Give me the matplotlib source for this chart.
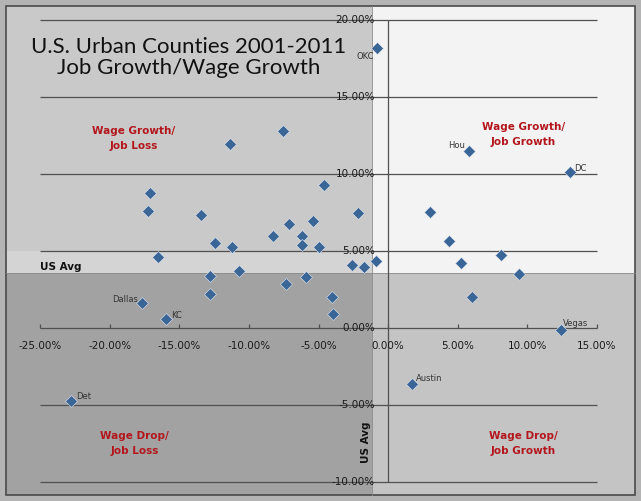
import matplotlib.pyplot as plt
from matplotlib.patches import Rectangle

# job growth (x, %) and wage growth (y, %) per urban county
job_growth = [-17.1, -17.27, -13.44, -12.43, -11.24, -16.5, -10.69, -12.79, -12.79,
              -17.65, -15.97, -11.36, -7.55, -4.59, -2.17, -7.14, -5.42, -8.25, -6.19,
              -0.78, -6.19, -4.97, -2.62, -1.74, -0.88, -7.36, -5.88, -4.01, -3.94,
              3.0, 4.36, 5.25, 8.12, 9.41, 6.02, 12.4, 5.8, 13.05, 1.69, -22.77]
wage_growth = [8.75, 7.58, 7.34, 5.50, 5.24, 4.63, 3.72, 3.38, 2.19,
               1.60, 0.61, 11.93, 12.77, 9.26, 7.45, 6.73, 6.93, 5.95, 5.97,
               18.16, 5.37, 5.24, 4.07, 3.94, 4.35, 2.84, 3.29, 2.01, 0.91,
               7.51, 5.65, 4.22, 4.72, 3.51, 2.01, -0.13, 11.47, 10.11, -3.66, -4.76]

# labelled counties: name, index into the arrays, offset in px, alignment
labels = [("OKC", 19, (-3, -8), "right"),
          ("Hou", 36, (-4, 6), "right"),
          ("DC", 37, (4, 4), "left"),
          ("Dallas", 9, (-4, 4), "right"),
          ("KC", 10, (5, 3), "left"),
          ("Det", 39, (5, 5), "left"),
          ("Austin", 38, (4, 6), "left"),
          ("Vegas", 35, (2, 7), "left")]

us_avg_job = -1.17
us_avg_wage = 3.56

x_ticks = [-25, -20, -15, -10, -5, 0, 5, 10, 15]
y_ticks = [-10, -5, 0, 5, 10, 15, 20]

fig = plt.figure(figsize=(6.41, 5.01), dpi=100)
fig.patch.set_facecolor("#b4b4b4")
ax = fig.add_axes([0, 0, 1, 1])
x0, x1 = -27.873, 18.160
y0, y1 = -11.234, 21.299
ax.set_xlim(x0, x1)
ax.set_ylim(y0, y1)
ax.axis("off")

# inner frame in data units
fl = x0 + 6 / 641 * (x1 - x0)
fr = x0 + 635 / 641 * (x1 - x0)
fb = y0 + 6 / 501 * (y1 - y0)
ft = y0 + 495 / 501 * (y1 - y0)

def box(xa, xb, ya, yb, c):
    ax.add_patch(Rectangle((xa, ya), xb - xa, yb - ya, facecolor=c,
                           edgecolor="none", zorder=0))

box(fl, us_avg_job, us_avg_wage, ft, "#c9c9c9")
box(fl, us_avg_job, us_avg_wage, 5, "#d4d4d4")
box(us_avg_job, fr, us_avg_wage, ft, "#f3f3f3")
box(fl, us_avg_job, fb, us_avg_wage, "#a2a2a2")
box(us_avg_job, fr, fb, us_avg_wage, "#c4c4c4")
ax.add_patch(Rectangle((fl, fb), fr - fl, ft - fb, facecolor="none",
                       edgecolor="#4a4a4a", lw=1.2, zorder=1))
ax.plot([us_avg_job, us_avg_job], [fb, ft], color="#8a8a8a", lw=0.6, zorder=1)
ax.plot([fl, fr], [us_avg_wage, us_avg_wage], color="#8a8a8a", lw=0.6, zorder=1)

# grid and axes
ax.hlines(y_ticks, x_ticks[0], x_ticks[-1], color="#505050", lw=0.9, zorder=2)
ax.vlines(0, y_ticks[0], y_ticks[-1], color="#505050", lw=0.9, zorder=2)
ax.vlines(x_ticks, 0, 0.25, color="#505050", lw=0.9, zorder=2)

for t in x_ticks:
    ax.text(t, -1.15, "%.2f%%" % t, ha="center", va="center", fontsize=7.5,
            color="#1a1a1a", zorder=3)
for t in y_ticks:
    ax.text(-0.95, t, "%.2f%%" % t, ha="right", va="center", fontsize=7.5,
            color="#1a1a1a", zorder=3)

ax.plot(job_growth, wage_growth, "D", ms=6.3, color="#3a6597",
        mec="#dfe6ef", mew=0.4, zorder=4)

for name, i, off, ha in labels:
    ax.annotate(name, (job_growth[i], wage_growth[i]), xytext=off,
                textcoords="offset pixels", ha=ha, va="center", fontsize=6,
                color="#333333", zorder=5)

ax.text(-14.3, 17.55, "U.S. Urban Counties 2001-2011\nJob Growth/Wage Growth",
        ha="center", va="center", fontsize=16, family="Lato",
        linespacing=1.08, color="#111111", zorder=5)

red = "#b3161c"
quad = dict(ha="center", va="center", fontsize=7.5, fontweight="bold",
            color=red, linespacing=1.6, zorder=5)
ax.text(-18.3, 12.3, "Wage Growth/\nJob Loss", **quad)
ax.text(9.7, 12.55, "Wage Growth/\nJob Growth", **quad)
ax.text(-18.2, -7.5, "Wage Drop/\nJob Loss", **quad)
ax.text(9.7, -7.5, "Wage Drop/\nJob Growth", **quad)

ax.text(-25, us_avg_wage + 0.1, "US Avg", ha="left", va="bottom", fontsize=7.5,
        fontweight="bold", color="#111111", zorder=5)
ax.text(-1.6, -7.4, "US Avg", ha="center", va="center", rotation=90,
        fontsize=7.5, fontweight="bold", color="#111111", zorder=5)

fig.savefig("out.png", dpi=100, facecolor=fig.get_facecolor())
